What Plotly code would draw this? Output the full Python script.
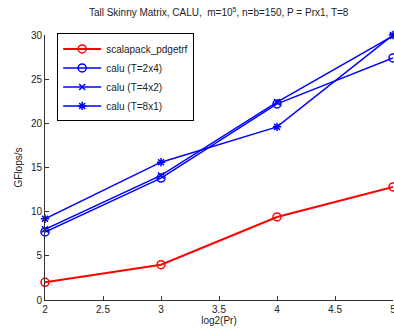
import plotly.graph_objects as go

x_vals = [2, 3, 4, 5]
scalapack = [2.0, 4.0, 9.4, 12.8]
calu_2x4 = [7.7, 13.8, 22.2, 27.4]
calu_4x2 = [8.0, 14.1, 22.4, 29.9]
calu_8x1 = [9.2, 15.6, 19.6, 30.0]

x_ticks = [2, 2.5, 3, 3.5, 4, 4.5, 5]
y_ticks = [0, 5, 10, 15, 20, 25, 30]

FONT = "Liberation Sans, Arial, Helvetica, sans-serif"
RED = "#ff0000"
BLUE = "#0000ff"

fig = go.Figure()
fig.add_trace(go.Scatter(x=x_vals, y=scalapack, name="scalapack_pdgetrf", mode="lines+markers",
                         line=dict(color=RED, width=2),
                         marker=dict(symbol="circle-open", size=8, color=RED, line=dict(width=1.5))))
fig.add_trace(go.Scatter(x=x_vals, y=calu_2x4, name="calu (T=2x4)", mode="lines+markers",
                         line=dict(color=BLUE, width=1.5),
                         marker=dict(symbol="circle-open", size=8, color=BLUE, line=dict(width=1.5))))
fig.add_trace(go.Scatter(x=x_vals, y=calu_4x2, name="calu (T=4x2)", mode="lines+markers",
                         line=dict(color=BLUE, width=1.5),
                         marker=dict(symbol="x-thin-open", size=6, color=BLUE, line=dict(width=1.5))))
fig.add_trace(go.Scatter(x=x_vals, y=calu_8x1, name="calu (T=8x1)", mode="lines+markers",
                         line=dict(color=BLUE, width=1.5),
                         marker=dict(symbol="asterisk-open", size=7, color=BLUE, line=dict(width=1.5))))

fig.update_layout(
    width=394, height=329,
    margin=dict(l=45, r=1, t=35, b=29, autoexpand=False),
    paper_bgcolor="white", plot_bgcolor="white",
    font=dict(family=FONT, size=10, color="#222"),
    title=dict(text="Tall Skinny Matrix, CALU,  m=10<sup>5</sup>, n=b=150, P = Prx1, T=8",
               x=0.555, xanchor="center", y=0.962, yanchor="middle",
               font=dict(size=10, family=FONT, color="#222")),
    showlegend=True,
    legend=dict(x=0.035, y=1.006, xanchor="left", yanchor="top",
                bgcolor="white", bordercolor="black", borderwidth=1,
                font=dict(size=10, family=FONT, color="#222"),
                itemwidth=38, tracegroupgap=0),
)
fig.update_xaxes(range=[2, 5], tickvals=x_ticks, ticktext=[f"{t:g}" for t in x_ticks],
                 ticks="inside", ticklen=4, tickcolor="#333", ticklabeloverflow="allow",
                 showline=True, linecolor="#333", linewidth=1, showgrid=False, zeroline=False,
                 title=dict(text="log2(Pr)", standoff=2, font=dict(size=10, family=FONT)))
fig.update_yaxes(range=[0, 30], tickvals=y_ticks, ticktext=[str(t) for t in y_ticks],
                 ticks="inside", ticklen=4, tickcolor="#333", ticklabeloverflow="allow",
                 showline=True, linecolor="#333", linewidth=1, showgrid=False, zeroline=False,
                 title=dict(text="GFlops/s", standoff=6, font=dict(size=10, family=FONT)))
fig.update_traces(cliponaxis=False)

fig.write_html("out.html", config={"displayModeBar": False},
               post_script="document.body.style.margin='0';document.body.style.overflow='hidden';")
